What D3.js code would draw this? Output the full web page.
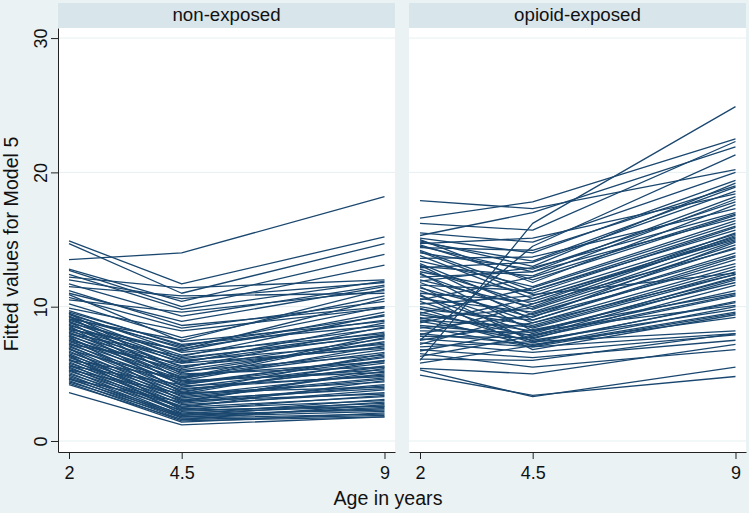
<!DOCTYPE html>
<html>
<head>
<meta charset="utf-8">
<script src="https://cdn.jsdelivr.net/npm/d3@7"></script>
<style>
  html, body { margin: 0; padding: 0; background: #eaf2f3; }
  svg { display: block; font-family: "Liberation Sans", Arial, sans-serif; }
</style>
</head>
<body>
<svg id="chart" width="749" height="513"></svg>
<script>
// ---------- data ----------
const ages = [2, 4.5, 9];
const panels = ["non-exposed", "opioid-exposed"];
const yTicks = [0, 10, 20, 30];
const xTickLabels = ["2", "4.5", "9"];
const yTitle = "Fitted values for Model 5";
const xTitle = "Age in years";

// each row: fitted value at age 2, 4.5, 9
const nonExposed = [
  [13.5, 14.0, 18.2], [14.9, 11.7, 15.2], [14.7, 11.0, 14.7], [12.8, 10.4, 13.9],
  [12.7, 10.0, 13.1], [12.2, 11.4, 12.0], [12.0, 10.6, 11.8], [11.7, 9.3, 11.6],
  [11.5, 10.8, 11.0], [11.0, 8.9, 11.5], [10.7, 8.4, 10.4], [10.5, 9.6, 11.2],
  [10.2, 7.7, 10.8], [9.9, 8.2, 9.9], [9.7, 7.1, 9.3], [11.2, 8.6, 10.0],
  [12.4, 9.8, 11.9], [10.9, 7.4, 8.9],
  [9.6, 7.2, 8.6], [9.5, 6.6, 8.0], [9.4, 6.9, 9.0], [9.3, 6.2, 7.8],
  [9.2, 7.0, 10.0], [9.1, 6.0, 7.2], [9.0, 6.4, 8.4], [8.9, 5.8, 6.9],
  [8.8, 6.7, 9.6], [8.7, 5.5, 7.6], [8.6, 6.1, 8.1], [8.5, 5.2, 6.4],
  [8.4, 5.9, 7.9], [8.3, 4.9, 5.9], [8.2, 5.6, 7.0], [8.1, 4.7, 6.6],
  [8.0, 5.4, 8.5], [7.9, 4.4, 5.3], [7.8, 5.1, 7.4], [7.7, 4.2, 6.0],
  [7.6, 4.8, 6.8], [7.5, 3.9, 4.9], [7.4, 4.6, 7.7], [7.3, 3.7, 5.6],
  [7.2, 4.3, 6.2], [7.1, 3.5, 4.4], [7.0, 4.0, 5.8], [6.9, 3.3, 4.7],
  [6.8, 4.5, 7.1], [6.7, 3.1, 3.9], [6.6, 3.8, 5.5], [6.5, 2.9, 4.2],
  [6.4, 3.6, 6.5], [6.3, 2.7, 3.6], [6.2, 3.4, 5.0], [6.1, 2.5, 3.3],
  [6.0, 3.2, 4.6], [5.9, 2.4, 3.0], [5.8, 3.0, 5.2], [5.7, 2.2, 2.8],
  [5.6, 2.8, 4.1], [5.5, 2.1, 2.6], [5.4, 2.6, 3.8], [5.3, 1.9, 2.4],
  [5.2, 2.5, 4.5], [5.1, 1.8, 2.2], [5.0, 2.3, 3.4], [4.9, 1.7, 2.0],
  [4.8, 2.0, 3.1], [4.7, 1.6, 1.9], [4.6, 1.9, 2.9], [4.5, 1.5, 1.8],
  [4.4, 1.8, 2.5], [4.3, 1.4, 2.1], [4.2, 1.6, 2.7], [3.6, 1.2, 1.8],
  [9.5, 5.0, 5.5], [8.9, 4.1, 4.8], [8.3, 6.8, 10.6], [7.8, 3.0, 3.5],
  [7.2, 5.8, 8.8], [6.9, 2.3, 2.6], [9.1, 7.5, 11.3], [8.6, 3.6, 4.0],
  [7.5, 5.3, 7.3], [6.4, 2.0, 2.3], [5.6, 4.2, 6.3], [9.3, 4.5, 5.1],
  [8.0, 6.3, 9.4], [6.0, 4.7, 7.9], [5.3, 3.5, 6.0], [4.6, 2.9, 5.4]
];

const opioidExposed = [
  [17.9, 17.3, 20.2], [16.6, 17.8, 22.5], [6.0, 16.2, 24.9], [16.2, 15.7, 22.3],
  [15.3, 17.0, 21.9], [7.5, 14.5, 21.3], [15.1, 14.0, 19.4], [14.9, 13.0, 19.2],
  [14.7, 15.1, 18.4], [14.5, 12.6, 18.2],
  [15.0, 11.8, 17.6], [14.8, 13.4, 18.9], [14.6, 12.0, 16.8], [14.4, 14.2, 19.0],
  [14.2, 11.2, 16.0], [14.0, 12.8, 17.8], [13.8, 10.6, 15.2], [13.6, 13.7, 17.3],
  [13.4, 11.5, 16.4], [13.2, 9.8, 14.6], [13.0, 12.3, 18.0], [12.8, 10.2, 15.5],
  [12.6, 11.0, 15.9], [12.4, 9.4, 14.0], [12.2, 12.6, 16.6], [12.0, 10.0, 15.3],
  [11.8, 8.8, 13.0], [11.6, 11.2, 15.7], [11.4, 9.2, 14.8], [11.2, 8.4, 12.4],
  [11.0, 10.4, 15.1], [10.8, 8.0, 12.2], [10.6, 9.6, 14.4], [10.4, 7.6, 11.6],
  [10.2, 10.8, 15.4], [10.0, 8.6, 12.8], [9.9, 7.3, 10.4], [9.8, 9.0, 13.5],
  [9.6, 7.8, 12.0], [9.5, 11.4, 16.2], [9.4, 8.2, 11.8], [9.2, 7.1, 10.0],
  [9.1, 9.9, 14.9], [9.0, 8.5, 12.6], [8.9, 7.5, 9.8], [8.8, 10.6, 15.0],
  [8.6, 7.9, 11.2], [8.5, 7.0, 9.5], [8.4, 9.3, 13.2], [8.2, 8.1, 12.1],
  [8.0, 7.2, 9.2], [7.9, 10.2, 14.3], [7.8, 7.7, 10.8], [7.6, 7.0, 8.0],
  [7.5, 8.8, 12.4], [7.3, 6.6, 7.9], [7.2, 9.5, 13.8], [7.0, 7.4, 10.3],
  [6.8, 6.2, 7.5], [6.7, 8.3, 11.0], [6.5, 5.5, 6.8], [6.3, 7.8, 10.9],
  [6.1, 6.0, 8.0], [5.8, 7.1, 9.6], [5.4, 5.0, 7.2], [5.3, 3.3, 5.5],
  [4.9, 3.4, 4.8], [12.9, 13.3, 18.6], [15.5, 14.8, 20.0], [11.9, 12.9, 17.0],
  [10.5, 12.2, 16.9], [13.1, 9.0, 13.7], [14.1, 10.9, 12.5], [10.9, 6.8, 9.4],
  [11.5, 7.4, 8.2], [12.5, 8.2, 10.1]
];

const panelData = [nonExposed, opioidExposed];

// ---------- layout ----------
const W = 749, H = 513;
const panelX = [58, 409], panelW = 337;
const plotTop = 28, plotBottom = 452;
const stripTop = 3;

const svg = d3.select("#chart");
svg.append("rect").attr("width", W).attr("height", H).attr("fill", "#eaf2f3");

const y = d3.scaleLinear().domain([-0.82, 30.75]).range([plotBottom, plotTop]);

const line = d3.line()
  .x(d => d.x)
  .y(d => y(d.v));

panels.forEach((name, i) => {
  const x0 = panelX[i];
  const x = d3.scaleLinear().domain([1.756, 9.233]).range([x0, x0 + panelW]);

  // strip
  svg.append("rect").attr("x", x0).attr("y", stripTop)
    .attr("width", panelW).attr("height", plotTop - stripTop)
    .attr("fill", "#d8e5ea");
  svg.append("text").attr("x", x0 + panelW / 2).attr("y", 21)
    .attr("text-anchor", "middle").attr("font-size", "18.7px").attr("fill", "#111")
    .text(name);

  // plot region
  svg.append("rect").attr("x", x0).attr("y", plotTop)
    .attr("width", panelW).attr("height", plotBottom - plotTop)
    .attr("fill", "#ffffff");

  // gridlines
  svg.append("g").selectAll("line").data(yTicks).join("line")
    .attr("x1", x0).attr("x2", x0 + panelW)
    .attr("y1", d => y(d)).attr("y2", d => y(d))
    .attr("stroke", "#e6eff1").attr("stroke-width", 1);

  // lines
  const g = svg.append("g");
  panelData[i].forEach(row => {
    const pts = row.map((v, k) => ({ x: x(ages[k]), v }));
    g.append("path").attr("d", line(pts))
      .attr("fill", "none").attr("stroke", "#1a476f")
      .attr("stroke-width", 1.3).attr("stroke-linejoin", "round");
  });

  // x axis
  const xa = svg.append("g").attr("transform", `translate(0,${plotBottom})`)
    .call(d3.axisBottom(x).tickValues(ages).tickFormat((d, k) => xTickLabels[k])
      .tickSizeInner(7).tickSizeOuter(0));
  xa.select(".domain").attr("stroke", "#222");
  xa.selectAll(".tick line").attr("stroke", "#222");
  xa.selectAll(".tick text").attr("y", 27).attr("dy", 0)
    .attr("font-size", "18px").attr("fill", "#111")
    .attr("font-family", "'Liberation Sans', Arial, sans-serif");

  // y axis on left panel only
  if (i === 0) {
    const ya = svg.append("g").attr("transform", `translate(${x0},0)`)
      .call(d3.axisLeft(y).tickValues(yTicks).tickSizeInner(7).tickSizeOuter(0));
    ya.select(".domain").attr("stroke", "#222");
    ya.selectAll(".tick line").attr("stroke", "#222");
    ya.selectAll(".tick text")
      .attr("transform", "rotate(-90)")
      .attr("x", 0).attr("y", -11).attr("dy", 0)
      .attr("text-anchor", "middle")
      .attr("font-size", "18px").attr("fill", "#111")
      .attr("font-family", "'Liberation Sans', Arial, sans-serif");
  }
});

// axis titles
svg.append("text").attr("transform", "translate(18,244) rotate(-90)")
  .attr("text-anchor", "middle").attr("font-size", "19.6px").attr("fill", "#111")
  .text(yTitle);
svg.append("text").attr("x", 388).attr("y", 505)
  .attr("text-anchor", "middle").attr("font-size", "19.6px").attr("fill", "#111")
  .text(xTitle);
</script>
</body>
</html>
